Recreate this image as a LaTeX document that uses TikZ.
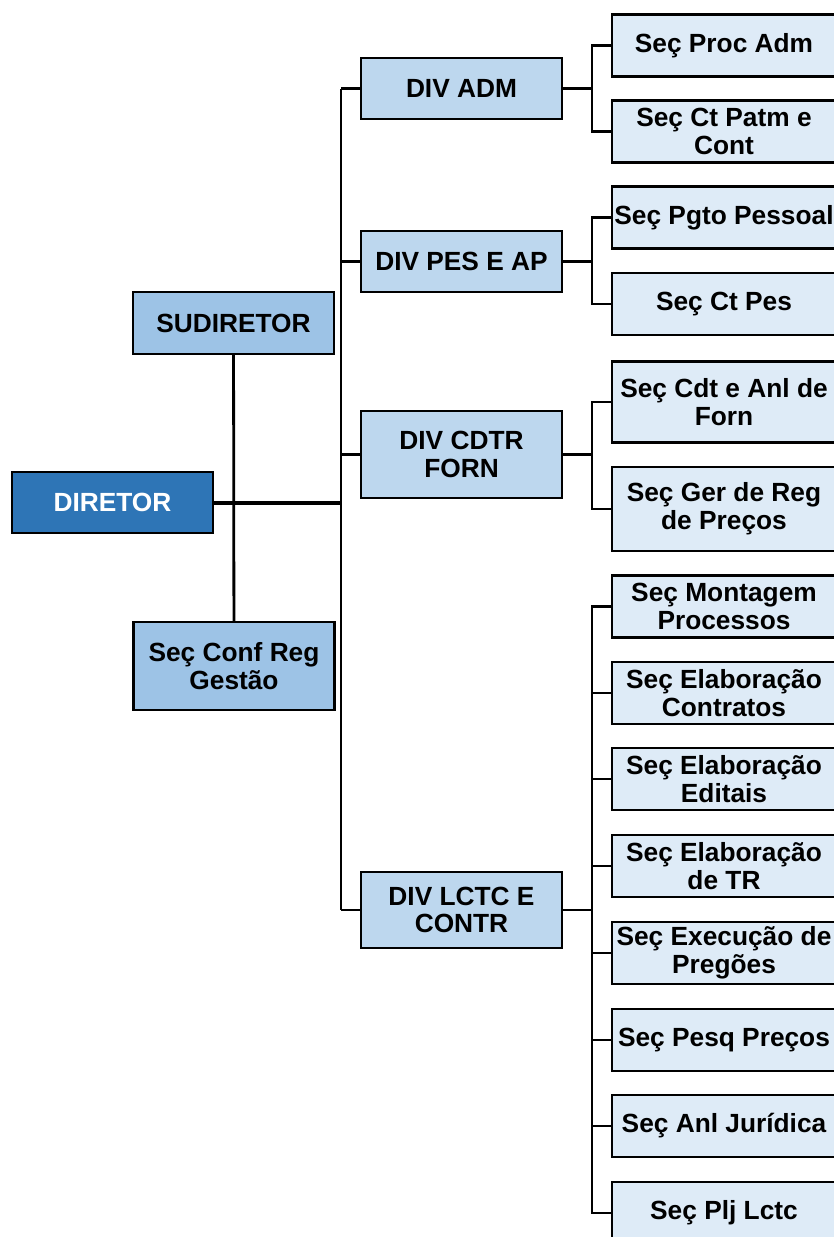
\documentclass[tikz,border=0pt]{standalone}
\usepackage{fontspec}
\setmainfont{Liberation Sans}
\usepackage{xcolor}
\usepackage{tikz}
\usetikzlibrary{positioning}
\definecolor{dirblue}{HTML}{2E75B6}
\definecolor{subblue}{HTML}{9DC3E6}
\definecolor{divblue}{HTML}{BDD7EE}
\definecolor{secblue}{HTML}{DEEBF7}
\tikzset{
	box/.style={rectangle, draw=black, line width=0.55mm, inner sep=0pt, align=center, font=\fontsize{18.7}{19.7}\selectfont\bfseries},
	dirnode/.style={box, fill=dirblue, text=white, minimum width=50.25mm, minimum height=15.25mm},
	subnode/.style={box, fill=subblue, minimum width=50.25mm, minimum height=15.5mm},
	divnode/.style={box, fill=divblue, minimum width=50.25mm, minimum height=15.25mm},
	secnode/.style={box, fill=secblue, minimum width=56mm, minimum height=15.5mm},
	link/.style={line width=0.7mm}
}
\begin{document}
\begin{tikzpicture}[x=0.25mm, y=-0.25mm]
		\useasboundingbox (0,0) rectangle (834,1237);
		\clip (0,0) rectangle (834,1237);
		
		\node[dirnode] at (112.5,502.5) (dir) {DIRETOR};
		\node[subnode] at (233.5,323) (sub) {SUDIRETOR};
		\node[subnode, minimum height=22mm] at (234,666) (conf) {Seç Conf Reg\\Gestão};
		
		\node[divnode] at (461.5,88.5) (divadm) {DIV ADM};
		\node[divnode] at (461.5,261.5) (divpes) {DIV PES E AP};
		\node[divnode, minimum height=21.75mm] at (461.5,454.5) (divcdtr) {DIV CDTR\\FORN};
		\node[divnode, minimum height=19mm] at (461.5,910) (divlctc) {DIV LCTC E\\CONTR};
		
		\node[secnode] at (724,45.5) (procadm) {Seç Proc Adm};
		\node[secnode] at (724,131.5) (ctpatm) {Seç Ct Patm e\\Cont};
		\node[secnode] at (724,217.5) (pgto) {Seç Pgto Pessoal};
		\node[secnode] at (724,304) (ctpes) {Seç Ct Pes};
		\node[secnode, minimum height=20.25mm] at (724,402) (cdt) {Seç Cdt e Anl de\\Forn};
		\node[secnode, minimum height=21mm] at (724,509) (gerreg) {Seç Ger de Reg\\de Preços};
		\node[secnode] at (724,606.5) (mont) {Seç Montagem\\Processos};
		\node[secnode] at (724,693) (contr) {Seç Elaboração\\Contratos};
		\node[secnode] at (724,779) (edit) {Seç Elaboração\\Editais};
		\node[secnode] at (724,866) (tr) {Seç Elaboração\\de TR};
		\node[secnode] at (724,953) (preg) {Seç Execução de\\Pregões};
		\node[secnode] at (724,1040) (pesq) {Seç Pesq Preços};
		\node[secnode] at (724,1126) (jur) {Seç Anl Jurídica};
		\node[secnode] at (724,1213) (plj) {Seç Plj Lctc};
		
		%Lines
		\coordinate (trunk) at (341,0);
		\coordinate (branch) at (592,0);
		
		\draw[link] (sub) -- (conf);
		\draw[line width=1mm] (dir.east) -- (dir.east -| trunk);
		\draw[link] (trunk |- divadm.west) -- (trunk |- divlctc.west);
		\draw[link] (divadm.west) -- (divadm.west -| trunk);
		\draw[link] (divpes.west) -- (divpes.west -| trunk);
		\draw[link] (divcdtr.west) -- (divcdtr.west -| trunk);
		\draw[link] (divlctc.west) -- (divlctc.west -| trunk);
		
		\draw[link] (divadm.east) -- (divadm.east -| branch);
		\draw[link] (procadm.west) -| (branch |- ctpatm.west) -- (ctpatm.west);
		
		\draw[link] (divpes.east) -- (divpes.east -| branch);
		\draw[link] (pgto.west) -| (branch |- ctpes.west) -- (ctpes.west);
		
		\draw[link] (divcdtr.east) -- (divcdtr.east -| branch);
		\draw[link] (cdt.west) -| (branch |- gerreg.west) -- (gerreg.west);
		
		\draw[link] (divlctc.east) -- (divlctc.east -| branch);
		\draw[link] (mont.west) -| (branch |- plj.west) -- (plj.west);
		\draw[link] (contr.west) -- (contr.west -| branch);
		\draw[link] (edit.west) -- (edit.west -| branch);
		\draw[link] (tr.west) -- (tr.west -| branch);
		\draw[link] (preg.west) -- (preg.west -| branch);
		\draw[link] (pesq.west) -- (pesq.west -| branch);
		\draw[link] (jur.west) -- (jur.west -| branch);
		
	\end{tikzpicture}
\end{document}
